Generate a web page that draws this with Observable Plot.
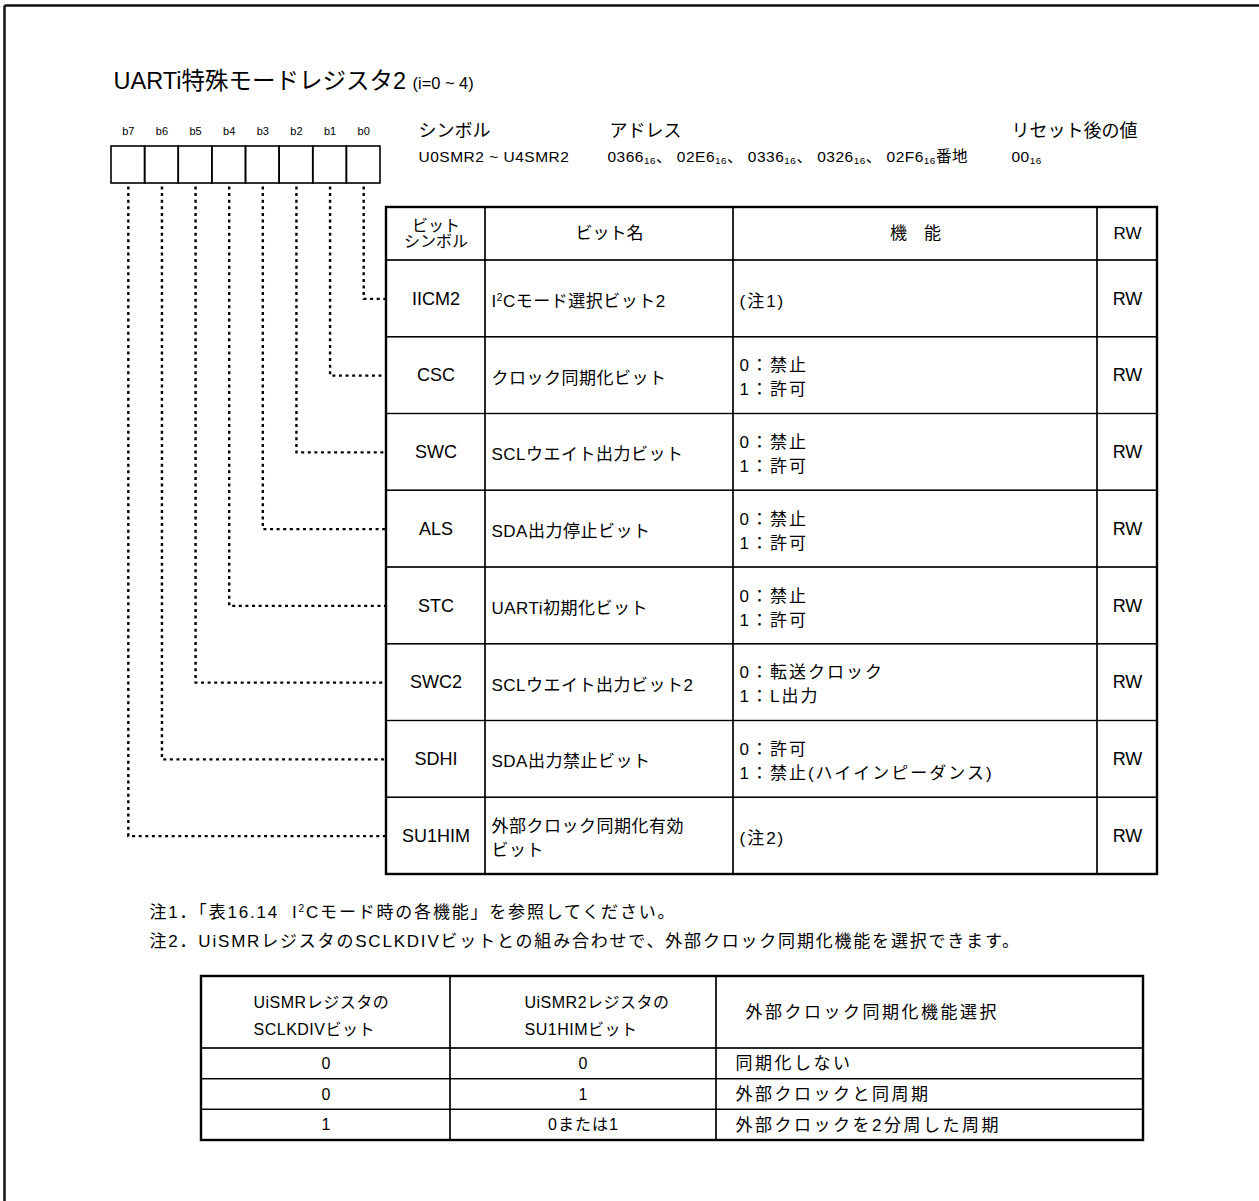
<!DOCTYPE html>
<html><head><meta charset="utf-8">
<script src="https://cdn.jsdelivr.net/npm/d3@7"></script>
<script src="https://cdn.jsdelivr.net/npm/@observablehq/plot@0.6"></script>
<style>
html,body{margin:0;padding:0;background:#fff;}
svg{display:block;}
</style></head><body><div id="chart"></div>
<script>
// ---------- data ----------
const titleText = "UARTi特殊モードレジスタ2";
const titleNote = "(i=0 ~ 4)";
const bitLabels = ["b7", "b6", "b5", "b4", "b3", "b2", "b1", "b0"];
const infoHeads = ["シンボル", "アドレス", "リセット後の値"];
const infoValues = ["U0SMR2 ~ U4SMR2", "0366_{16}、 02E6_{16}、 0336_{16}、 0326_{16}、 02F6_{16}番地", "00_{16}"];
const headers = ["ビット\nシンボル", "ビット名", "機　能", "RW"];
// rows in order b0 .. b7
const symbols = ["IICM2", "CSC", "SWC", "ALS", "STC", "SWC2", "SDHI", "SU1HIM"];
const bitNames = ["I^{2}Cモード選択ビット2", "クロック同期化ビット", "SCLウエイト出力ビット", "SDA出力停止ビット",
  "UARTi初期化ビット", "SCLウエイト出力ビット2", "SDA出力禁止ビット", "外部クロック同期化有効\nビット"];
const functions = ["(注1)", "0：禁止\n1：許可", "0：禁止\n1：許可", "0：禁止\n1：許可", "0：禁止\n1：許可",
  "0：転送クロック\n1：L出力", "0：許可\n1：禁止(ハイインピーダンス)", "(注2)"];
const access = ["RW", "RW", "RW", "RW", "RW", "RW", "RW", "RW"];
const notes = [
  "注1．「表16.14  I^{2}Cモード時の各機能」を参照してください。",
  "注2．UiSMRレジスタのSCLKDIVビットとの組み合わせで、外部クロック同期化機能を選択できます。"
];
const selHeaders = ["UiSMRレジスタの\nSCLKDIVビット", "UiSMR2レジスタの\nSU1HIMビット", "外部クロック同期化機能選択"];
const sclkdiv = ["0", "0", "1"];
const su1him = ["0", "1", "0または1"];
const selection = ["同期化しない", "外部クロックと同周期", "外部クロックを2分周した周期"];

// ---------- layout ----------
const W = 1259, H = 1201;
const FONT = "'Liberation Sans', Arial, 'Noto Sans CJK JP', sans-serif";
const FRAME = {x: 4, y: 5};
const TITLE = {x: 113, y: 81};
const BOX = {x0: 111, x1: 380, y0: 146, y1: 183, labelY: 131};
const cellW = (BOX.x1 - BOX.x0) / bitLabels.length;
const INFO = {xs: [418, 609, 1011], headY: 131, valY: 157};
const T1 = {cols: [386, 485, 733, 1097, 1157], y0: 207, yh: 260, y1: 874};
const rowH = (T1.y1 - T1.yh) / symbols.length;
const NOTES = {x: 149, y0: 912, dy: 29};
const T2 = {cols: [201, 450, 716, 1143], y0: 976, yh: 1048, y1: 1140};
const row2H = (T2.y1 - T2.yh) / sclkdiv.length;

// ---------- derived tables ----------
const rowY = i => T1.yh + (i + 0.5) * rowH;
const bitCells = bitLabels.map((b, c) => ({b, x1: BOX.x0 + c * cellW, x2: BOX.x0 + (c + 1) * cellW, cx: BOX.x0 + (c + 0.5) * cellW}));

const t1Cells = [];
for (let r = -1; r < symbols.length; r++) {
  for (let c = 0; c < 4; c++) {
    t1Cells.push({x1: T1.cols[c], x2: T1.cols[c + 1],
      y1: r < 0 ? T1.y0 : T1.yh + r * rowH, y2: r < 0 ? T1.yh : T1.yh + (r + 1) * rowH});
  }
}
const t2Cells = [];
for (let r = -1; r < sclkdiv.length; r++) {
  for (let c = 0; c < 3; c++) {
    t2Cells.push({x1: T2.cols[c], x2: T2.cols[c + 1],
      y1: r < 0 ? T2.y0 : T2.yh + r * row2H, y2: r < 0 ? T2.yh : T2.yh + (r + 1) * row2H});
  }
}

// leader lines: bit i (b0..b7) → table row i
const leaders = [];
symbols.forEach((s, i) => {
  const cell = bitCells[bitLabels.length - 1 - i];
  const y = rowY(i);
  leaders.push({bit: i, x: cell.cx, y: BOX.y1 + 3});
  leaders.push({bit: i, x: cell.cx, y});
  leaders.push({bit: i, x: T1.cols[0] - 1, y});
});

const headerMid = (T1.y0 + T1.yh) / 2;
const colMid = c => (T1.cols[c] + T1.cols[c + 1]) / 2;
const hdrData = headers.map((h, c) => ({h, x: colMid(c), y: headerMid}));
const rows = symbols.map((s, i) => ({s, name: bitNames[i], fn: functions[i], rw: access[i], y: rowY(i)}));

const t2HeadMid = (T2.y0 + T2.yh) / 2;
const row2Y = i => T2.yh + (i + 0.5) * row2H;
const rows2 = sclkdiv.map((v, i) => ({a: v, b: su1him[i], c: selection[i], y: row2Y(i)}));
const t2Head = selHeaders.map((h, c) => ({h, c}));
const t2HeadX = [T2.cols[0] + 52, T2.cols[1] + 74, T2.cols[2] + 29];

const frameLines = [
  {x1: FRAME.x, y1: FRAME.y, x2: FRAME.x, y2: H + 5},
  {x1: FRAME.x, y1: FRAME.y, x2: W + 5, y2: FRAME.y}
];

const txt = {fill: "#000", stroke: null};
// letter spacing per text group (applied after render)
const spacing = {ls05: 0.5, ls1: 1, ls18: 1.8, ls2: 2, ls25: 2.5};

const chart = Plot.plot({
  width: W, height: H,
  margin: 0,
  x: {type: "linear", domain: [0, W], range: [0, W], axis: null},
  y: {type: "linear", domain: [0, H], range: [0, H], axis: null},
  style: {fontFamily: FONT, background: "#fff", color: "#000"},
  marks: [
    // page frame
    Plot.link(frameLines, {x1: "x1", y1: "y1", x2: "x2", y2: "y2", stroke: "#111", strokeWidth: 2.5}),
    // title
    Plot.text([titleText + " ~{" + titleNote + "}"], {x: TITLE.x, y: TITLE.y, text: d => d, textAnchor: "start", fontSize: 23.5, ...txt}),
    // bit register boxes
    Plot.rect(bitCells, {x1: "x1", x2: "x2", y1: BOX.y0, y2: BOX.y1, fill: "none", stroke: "#000", strokeWidth: 1.6}),
    Plot.text(bitCells, {x: "cx", y: BOX.labelY, text: "b", fontSize: 11, ...txt}),
    // info
    Plot.text(infoHeads, {x: (d, i) => INFO.xs[i], y: INFO.headY, text: d => d, textAnchor: "start", fontSize: 18, ...txt}),
    Plot.text(infoValues, {x: (d, i) => INFO.xs[i] - (i === 1 ? 2 : 0), y: INFO.valY, text: d => d, textAnchor: "start", fontSize: 15.5, ariaDescription: "ls05", ...txt}),
    // leader lines
    Plot.line(leaders, {x: "x", y: "y", z: "bit", stroke: "#000", strokeWidth: 2.4, strokeDasharray: "3,3.6", strokeLinecap: "butt", curve: "linear"}),
    // table 1
    Plot.rect(t1Cells, {x1: "x1", x2: "x2", y1: "y1", y2: "y2", fill: "none", stroke: "#000", strokeWidth: 1.2}),
    Plot.rect([0], {x1: T1.cols[0], x2: T1.cols[4], y1: T1.y0, y2: T1.y1, fill: "none", stroke: "#000", strokeWidth: 2.4}),
    Plot.text(hdrData.slice(0, 1), {x: "x", y: "y", text: "h", fontSize: 16, lineHeight: 1.0, ...txt}),
    Plot.text(hdrData.slice(1), {x: "x", y: "y", text: "h", fontSize: 17, ...txt}),
    Plot.text(rows, {x: colMid(0), y: "y", text: "s", fontSize: 18, ...txt}),
    Plot.text(rows, {x: T1.cols[1] + 6, y: "y", text: "name", textAnchor: "start", fontSize: 17, lineHeight: 1.45, ariaDescription: "ls05", ...txt}),
    Plot.text(rows, {x: T1.cols[2] + 6, y: "y", text: "fn", textAnchor: "start", fontSize: 17, lineHeight: 1.42, ariaDescription: "ls2", ...txt}),
    Plot.text(rows, {x: colMid(3), y: "y", text: "rw", fontSize: 18, ...txt}),
    // notes
    Plot.text(notes, {x: NOTES.x, y: (d, i) => NOTES.y0 + i * NOTES.dy, text: d => d, textAnchor: "start", fontSize: 17, ariaDescription: "ls18", ...txt}),
    // table 2
    Plot.rect(t2Cells, {x1: "x1", x2: "x2", y1: "y1", y2: "y2", fill: "none", stroke: "#000", strokeWidth: 1.2}),
    Plot.rect([0], {x1: T2.cols[0], x2: T2.cols[3], y1: T2.y0, y2: T2.y1, fill: "none", stroke: "#000", strokeWidth: 2.4}),
    Plot.text(t2Head.slice(0, 2), {x: d => t2HeadX[d.c], y: t2HeadMid, text: "h", textAnchor: "start", fontSize: 16, lineHeight: 1.7, ariaDescription: "ls05", ...txt}),
    Plot.text(t2Head.slice(2), {x: d => t2HeadX[d.c], y: t2HeadMid, text: "h", textAnchor: "start", fontSize: 17, ariaDescription: "ls25", ...txt}),
    Plot.text(rows2, {x: (T2.cols[0] + T2.cols[1]) / 2, y: "y", text: "a", fontSize: 16, ...txt}),
    Plot.text(rows2, {x: (T2.cols[1] + T2.cols[2]) / 2, y: "y", text: "b", fontSize: 16, ariaDescription: "ls1", ...txt}),
    Plot.text(rows2, {x: T2.cols[2] + 19, y: "y", text: "c", textAnchor: "start", fontSize: 17, ariaDescription: "ls25", ...txt})
  ]
});

// rich text: ^{sup}, _{sub}, ~{small}
function richify(root) {
  const NS = "http://www.w3.org/2000/svg";
  const nodes = Array.from(root.querySelectorAll("text, tspan"));
  for (const node of nodes) {
    if (node.childElementCount) continue;
    const s = node.textContent;
    if (!/[\^_~]\{/.test(s)) continue;
    node.textContent = "";
    const re = /([\^_~])\{([^}]*)\}/g;
    let last = 0, m;
    const add = (t, kind) => {
      const el = document.createElementNS(NS, "tspan");
      el.textContent = t;
      if (kind === "^") { el.setAttribute("font-size", "0.6em"); el.setAttribute("baseline-shift", "6px"); }
      if (kind === "_") { el.setAttribute("font-size", "0.64em"); el.setAttribute("baseline-shift", "-2px"); }
      if (kind === "~") { el.setAttribute("font-size", "0.7em"); }
      node.appendChild(el);
    };
    while ((m = re.exec(s))) {
      if (m.index > last) add(s.slice(last, m.index));
      add(m[2], m[1]);
      last = re.lastIndex;
    }
    if (last < s.length) add(s.slice(last));
  }
}
richify(chart);
for (const [key, px] of Object.entries(spacing)) {
  chart.querySelectorAll(`g[aria-description="${key}"]`).forEach(g => {
    g.setAttribute("letter-spacing", px + "px");
    g.style.letterSpacing = px + "px";
  });
}
document.getElementById("chart").appendChild(chart);
</script>
</body></html>
